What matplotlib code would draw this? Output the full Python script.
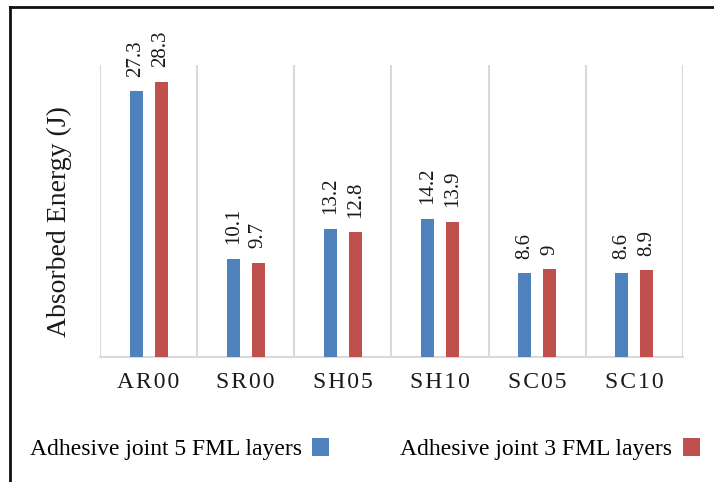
import numpy as np
import matplotlib
matplotlib.use('Agg')
import matplotlib.pyplot as plt
from matplotlib.patches import Patch
from matplotlib.lines import Line2D

# absorbed energy per specimen type
specimens = ['AR00', 'SR00', 'SH05', 'SH10', 'SC05', 'SC10']
joint_5_layers = [27.3, 10.1, 13.2, 14.2, 8.6, 8.6]
joint_3_layers = [28.3, 9.7, 12.8, 13.9, 9.0, 8.9]
value_text_5 = ['27.3', '10.1', '13.2', '14.2', '8.6', '8.6']
value_text_3 = ['28.3', '9.7', '12.8', '13.9', '9', '8.9']
series_names = ['Adhesive joint 5 FML layers', 'Adhesive joint 3 FML layers']

BLUE = '#4f81bd'
RED = '#c0504d'
GRID = '#d9d9d9'

plt.rcParams['font.family'] = ['Liberation Serif', 'DejaVu Serif']

fig = plt.figure(figsize=(7.14, 4.82), dpi=100)
ax = fig.add_axes([0.140, 0.2593, 0.8165, 0.6058])

x = np.arange(len(specimens))
off = 0.1286
w = 0.134
bars5 = ax.bar(x - off, joint_5_layers, w, color=BLUE, zorder=3)
bars3 = ax.bar(x + off, joint_3_layers, w, color=RED, zorder=3)

# rotated value labels above each bar
for bars, texts in ((bars5, value_text_5), (bars3, value_text_3)):
    for b, t in zip(bars, texts):
        ax.annotate(t, (b.get_x() + b.get_width() / 2, b.get_height()),
                    xytext=(0, 10.5), textcoords='offset points',
                    rotation=90, ha='center', va='bottom',
                    fontsize=15, color='#1a1a1a')

ax.set_xlim(-0.5, len(specimens) - 0.5)
ax.set_ylim(0, 30)
ax.set_yticks([])

# spaced-out category labels
ax.set_xticks(x)
ax.set_xticklabels(['\u200a'.join(s) for s in specimens], fontsize=17,
                   color='#1a1a1a')
ax.tick_params(axis='x', length=0, pad=11)

# separators between categories
ax.set_xticks(np.arange(-0.5, len(specimens)), minor=True)
ax.tick_params(axis='x', which='minor', length=0)
ax.grid(which='minor', axis='x', color=GRID, linewidth=1.5, zorder=0)

for side in ('top', 'right', 'left'):
    ax.spines[side].set_visible(False)
ax.spines['bottom'].set_color(GRID)
ax.spines['bottom'].set_linewidth(1.5)

ax.set_ylabel('Absorbed Energy (J)', fontsize=20, color='#1a1a1a')
ax.yaxis.set_label_coords(-0.048, 0.464)

handles = [Patch(facecolor=BLUE), Patch(facecolor=RED)]
fig.legend(handles, series_names, loc='center', ncol=2,
           bbox_to_anchor=(0.511, 0.068), frameon=False, markerfirst=False,
           fontsize=17, handlelength=0.72, handleheight=0.76,
           handletextpad=0.45, columnspacing=3.0)

# outer frame (top and left edges)
fig.add_artist(Line2D([0.014, 1.0], [0.9855, 0.9855], color='#111111',
                      linewidth=2, transform=fig.transFigure))
fig.add_artist(Line2D([0.014, 0.014], [0.0, 0.9855], color='#111111',
                      linewidth=2, transform=fig.transFigure))

fig.savefig('out.png', dpi=100)
